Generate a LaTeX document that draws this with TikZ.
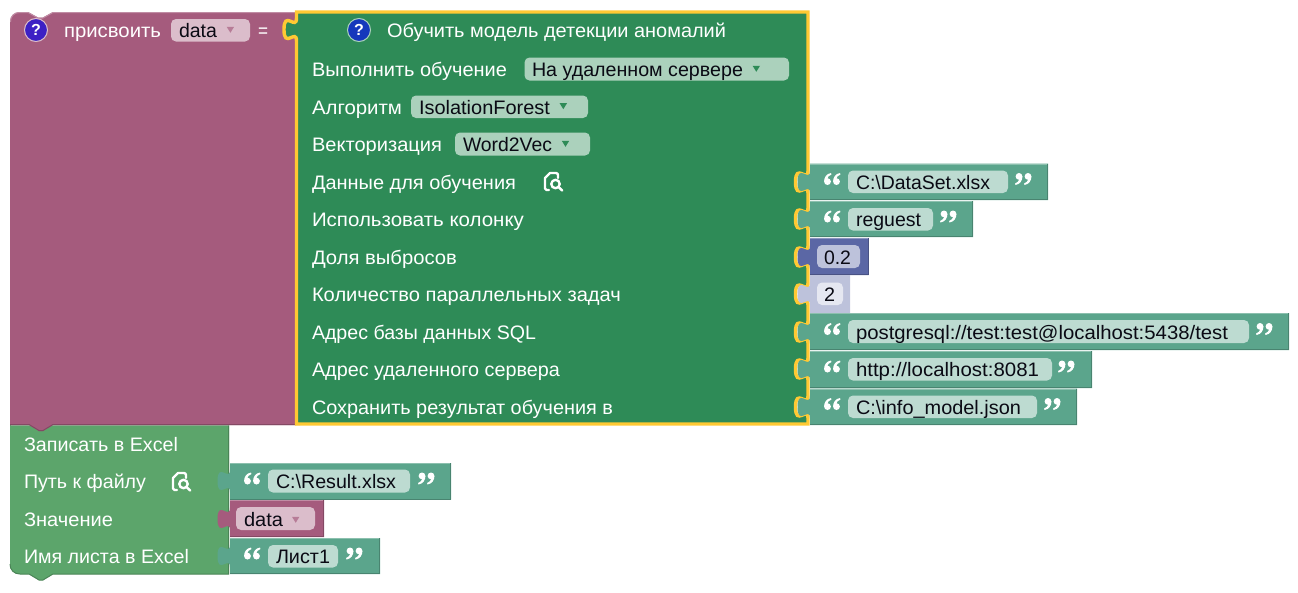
\documentclass[tikz,border=0pt]{standalone}
\usepackage{fontspec}
\usepackage{graphicx}
\setmainfont{Liberation Sans}
\definecolor{cpur}{HTML}{A55B7D}
\definecolor{cpurF}{HTML}{DBBDCB}
\definecolor{cpurL}{HTML}{C08CA4}
\definecolor{cpurD}{HTML}{844964}
\definecolor{cmain}{HTML}{2E8B57}
\definecolor{cmainF}{HTML}{ABD1BC}
\definecolor{cyel}{HTML}{FFC933}
\definecolor{cexc}{HTML}{5CA56B}
\definecolor{cexcL}{HTML}{8CC098}
\definecolor{cexcD}{HTML}{4A8456}
\definecolor{cval}{HTML}{5BA58C}
\definecolor{cvalL}{HTML}{8CC0AE}
\definecolor{cvalD}{HTML}{498470}
\definecolor{cvalF}{HTML}{BDDBD1}
\definecolor{cnum}{HTML}{5B67A5}
\definecolor{cnumL}{HTML}{8C95C0}
\definecolor{cnumD}{HTML}{495284}
\definecolor{cnumF}{HTML}{BDC2DB}
\definecolor{clight}{HTML}{BDC2DB}
\definecolor{clightF}{HTML}{E5E7F1}
\definecolor{ctext}{HTML}{0A0A14}
\definecolor{chelpA}{HTML}{3D20C4}
\definecolor{chelpB}{HTML}{1538BC}
\def\tabdn{.. controls +(0,13) and +(0,-20) .. ++(-12.5,11.5) .. controls +(0,20) and +(0,-13) .. ++(12.5,11.5)}
\def\tabup{.. controls +(0,-13) and +(0,20) .. ++(-12.5,-11.5) .. controls +(0,-20) and +(0,13) .. ++(12.5,-11.5)}
\tikzset{
  lbl/.style={anchor=base west,inner sep=0pt,outer sep=0pt,yshift=-1.1pt,text=white,font=\fontsize{19.5}{22}\selectfont},
  fldtxt/.style={lbl,text=ctext},
  fldbox/.style={rounded corners=5pt},
  hlp/.style={circle,minimum size=23pt,inner sep=0pt,line width=1pt,text=white,font=\fontsize{16}{18}\selectfont\bfseries}
}
\newcommand\txt[6]{\node[#6] (#1) at (#2,#3) {\resizebox{\dimexpr#4pt-#2pt\relax}{\height}{#5}};}
\newcommand\valblk[8]{%
  \fill[#6] (#1,#2) -- (#4,#2) -- (#4,#3) -- (#1,#3) -- (#1,{#5+11.5}) \tabup -- cycle;
  \draw[#7,line width=1pt] (#1,{#2+.5}) -- (#4,{#2+.5});
  \draw[#8,line width=1pt] (#4-.5,#2) -- (#4-.5,#3-.5) -- (#1,#3-.5);
}
\newcommand\fld[5]{\fill[#5,fldbox] (#1,#2) rectangle (#3,#4);}
\newcommand\qglyphs{%
  \fill[white] (3.5,8.6) circle[radius=3.4];
  \fill[white] (0.1,8.6) .. controls (0.1,4) and (2.5,.8) .. (7,0) -- (7.4,1.5) .. controls (5,2.6) and (3.6,4) .. (3.5,5.2) -- (3.5,8.6) -- cycle;
  \fill[white] (12.5,8.6) circle[radius=3.4];
  \fill[white] (9.1,8.6) .. controls (9.1,4) and (11.5,.8) .. (16,0) -- (16.4,1.5) .. controls (14,2.6) and (12.6,4) .. (12.5,5.2) -- (12.5,8.6) -- cycle;
}
\newcommand\qopen[2]{\begin{scope}[shift={(#1,#2)}]\qglyphs\end{scope}}
\newcommand\qclose[2]{\begin{scope}[shift={(#1+16.5,#2+12)},xscale=-1,yscale=-1]\qglyphs\end{scope}}
\newcommand\arrowdn[3]{\fill[#3] (#1,#2) -- (#1+7.4,#2) -- (#1+3.7,#2+6) -- cycle;}
\newcommand\fileicon[2]{\begin{scope}[shift={(#1,#2)},white,line width=2.4pt,line cap=round,line join=round]
  \draw (5,18) -- (2.5,18) .. controls (1.5,18) and (1,17.5) .. (1,16.5) -- (1,6) -- (6,1) -- (12,1) .. controls (13,1) and (14,2) .. (14,3) -- (14,6);
  \draw (11.5,12) circle[radius=4.2];
  \draw (14.7,15.2) -- (18.2,18.5);
\end{scope}}
\begin{document}
\begin{tikzpicture}[x=1pt,y=-1pt]
\useasboundingbox (0,0) rectangle (1298,592);
% lower block
\fill[cexc] (10,425) -- (229,425) -- (229,574) -- (53,574) -- (43,580) -- (39,580) -- (29,574) -- (20,574) .. controls (14,574) and (10,570) .. (10,564) -- cycle;
\draw[cexcL,line width=1pt] (10.5,425.5) -- (229,425.5);
\draw[cexcD,line width=1pt] (228.7,425.5) -- (228.7,574) -- (53,574) -- (43,580) -- (39,580) -- (29,574) -- (20,574) .. controls (14,574) and (10,570) .. (10,564);
% purple block
\fill[cpur] (10,22) .. controls (10,16) and (14,12) .. (20,12) -- (28,12) -- (38,17.5) -- (43,17.5) -- (53,12) -- (300,12) -- (300,425) -- (53,425) -- (43,431) -- (39,431) -- (29,425) -- (10,425) -- cycle;
\draw[cpurL,line width=1pt] (10.5,22) .. controls (10.5,16) and (14,12.5) .. (20,12.5) -- (28,12.5) -- (38,18) -- (43,18) -- (53,12.5) -- (296,12.5);
\draw[cpurD,line width=1pt] (296,424.5) -- (53,424.5) -- (43,430.5) -- (39,430.5) -- (29,424.5) -- (10,424.5);
% main block
\draw[fill=cmain,draw=cyel,line width=3.4pt,line join=miter]
  (296.5,12) -- (808,12) -- (808,170.5) \tabdn -- (808,207.5) \tabdn -- (808,245.5) \tabdn -- (808,282.5) \tabdn -- (808,320.5) \tabdn -- (808,357.5) \tabdn -- (808,395.5) \tabdn -- (808,424) -- (296.5,424) -- (296.5,41) \tabup -- cycle;
% value blocks
\valblk{810}{163.5}{200}{1048}{182}{cval}{cvalL}{cvalD}
\valblk{810}{201}{237}{973}{219}{cval}{cvalL}{cvalD}
\valblk{810}{238}{275}{868.5}{257}{cnum}{cnumL}{cnumD}
\valblk{810}{275}{313}{850}{294}{clight}{clight}{clight}
\valblk{810}{313}{350}{1289}{332}{cval}{cvalL}{cvalD}
\valblk{810}{351}{388}{1092}{369}{cval}{cvalL}{cvalD}
\valblk{810}{388.5}{425}{1077}{407}{cval}{cvalL}{cvalD}
\valblk{230}{463}{499.5}{451}{481}{cval}{cvalL}{cvalD}
\valblk{230}{500}{537}{324}{519}{cpur}{cpurL}{cpurD}
\valblk{230}{538}{574}{380}{556}{cval}{cvalL}{cvalD}
% fields
\fld{171}{19}{250}{41.5}{cpurF}
\fld{524.5}{57.5}{789}{80.5}{cmainF}
\fld{411}{95.5}{588}{118}{cmainF}
\fld{455}{132.5}{590}{155.5}{cmainF}
\fld{848}{170.5}{1008}{193}{cvalF}
\fld{848}{208}{933}{230.5}{cvalF}
\fld{817}{245}{860}{268}{cnumF}
\fld{817}{282.5}{843}{305}{clightF}
\fld{848}{320}{1249}{343}{cvalF}
\fld{848}{358}{1052}{380.5}{cvalF}
\fld{848}{395.5}{1037}{418}{cvalF}
\fld{268}{469.5}{410}{492.5}{cvalF}
\fld{236}{507}{315}{530}{cpurF}
\fld{268}{545}{338}{567.5}{cvalF}
% dropdown arrows
\arrowdn{226.7}{26.8}{cpur!80!white}
\arrowdn{752.6}{65.8}{cmain}
\arrowdn{559.6}{103.2}{cmain}
\arrowdn{561.8}{140.8}{cmain}
\arrowdn{292}{516.8}{cpur!80!white}
% quotes
\qopen{824}{173}\qclose{1015}{173}
\qopen{824}{210.5}\qclose{940}{210.5}
\qopen{824}{323}\qclose{1256}{323}
\qopen{824}{360.5}\qclose{1058}{360.5}
\qopen{824}{398}\qclose{1044}{398}
\qopen{244}{472.5}\qclose{418}{472.5}
\qopen{244}{547.5}\qclose{346}{547.5}
% icons
\fileicon{544}{172}
\fileicon{172}{472}
\node[hlp,fill=chelpA,draw=cpurF] (help1) at (36,30) {?};
\node[hlp,fill=chelpB,draw=cmainF] (help2) at (359,30) {?};
% labels
\txt{t1}{64}{36}{161}{присвоить}{lbl}
\txt{t2}{179}{36}{217}{data}{fldtxt}
\txt{t3}{258}{36}{268}{=}{lbl}
\txt{t4}{387}{36}{726}{Обучить модель детекции аномалий}{lbl}
\txt{t5}{312}{75}{507}{Выполнить обучение}{lbl}
\txt{t6}{532}{75}{743}{На удаленном сервере}{fldtxt}
\txt{t7}{312}{113}{402}{Алгоритм}{lbl}
\txt{t8}{419}{113}{550}{IsolationForest}{fldtxt}
\txt{t9}{312}{150}{442}{Векторизация}{lbl}
\txt{t10}{463}{150}{552}{Word2Vec}{fldtxt}
\txt{t11}{312}{188}{516}{Данные для обучения}{lbl}
\txt{t12}{856}{188}{990}{C:\textbackslash DataSet.xlsx}{fldtxt}
\txt{t13}{312}{225}{524}{Использовать колонку}{lbl}
\txt{t14}{856}{225}{921}{reguest}{fldtxt}
\txt{t15}{312}{263}{457}{Доля выбросов}{lbl}
\txt{t16}{824}{263}{851}{0.2}{fldtxt}
\txt{t17}{312}{300}{621}{Количество параллельных задач}{lbl}
\txt{t18}{824}{300}{835}{2}{fldtxt}
\txt{t19}{312}{338}{536}{Адрес базы данных SQL}{lbl}
\txt{t20}{856}{338}{1228}{postgresql://test:test@localhost:5438/test}{fldtxt}
\txt{t21}{312}{375}{560}{Адрес удаленного сервера}{lbl}
\txt{t22}{856}{375}{1039}{http://localhost:8081}{fldtxt}
\txt{t23}{312}{413}{613}{Сохранить результат обучения в}{lbl}
\txt{t24}{856}{413}{1021}{C:\textbackslash info\_model.json}{fldtxt}
\txt{t25}{24}{450}{178}{Записать в Excel}{lbl}
\txt{t26}{24}{487}{146}{Путь к файлу}{lbl}
\txt{t27}{276}{487}{396}{C:\textbackslash Result.xlsx}{fldtxt}
\txt{t28}{24}{525}{113}{Значение}{lbl}
\txt{t29}{244}{525}{283}{data}{fldtxt}
\txt{t30}{24}{562}{189}{Имя листа в Excel}{lbl}
\txt{t31}{276}{562}{330}{Лист1}{fldtxt}
\end{tikzpicture}
\end{document}
